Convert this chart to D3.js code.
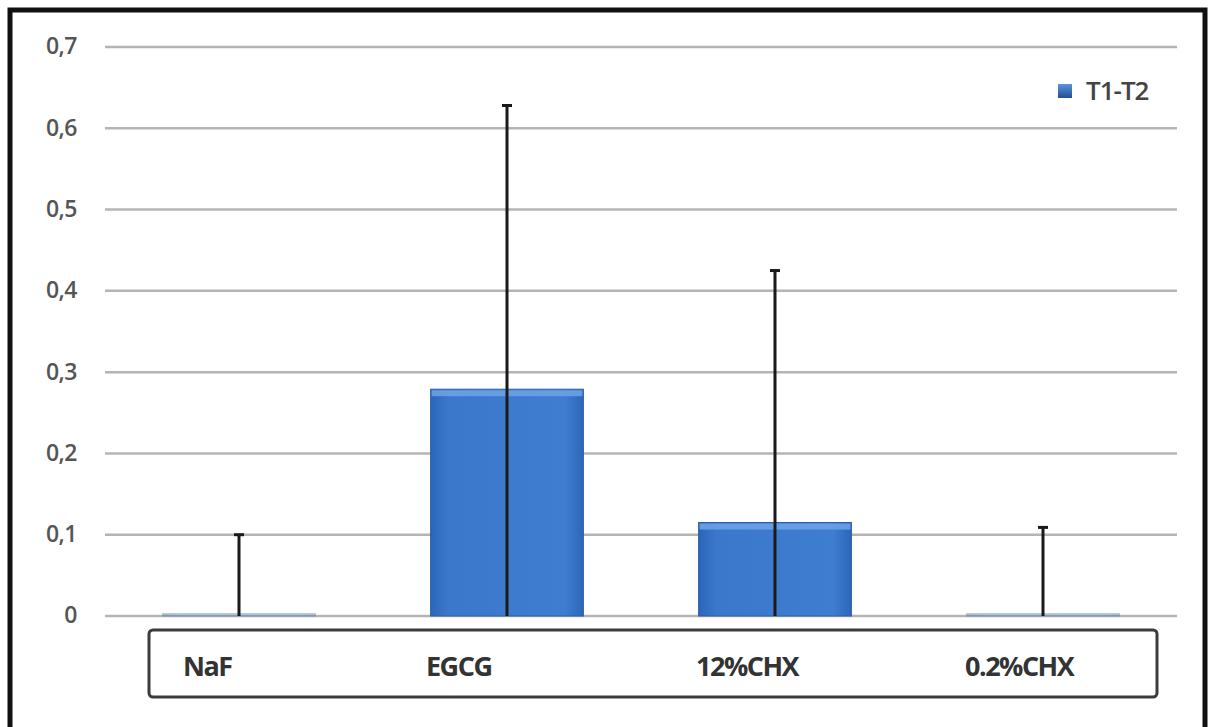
<!DOCTYPE html>
<html><head><meta charset="utf-8">
<script src="https://cdn.jsdelivr.net/npm/d3@7"></script>
<style>html,body{margin:0;padding:0;background:#fff;}svg{display:block;}</style>
</head><body>
<svg id="c" width="1213" height="727"></svg>
<script>
const categories = ["NaF", "EGCG", "12%CHX", "0.2%CHX"];
const values = [0.003, 0.279, 0.115, 0.003];
const errorTops = [0.1, 0.628, 0.425, 0.109];
const yTicks = [0, 0.1, 0.2, 0.3, 0.4, 0.5, 0.6, 0.7];
const yTickLabels = ["0", "0,1", "0,2", "0,3", "0,4", "0,5", "0,6", "0,7"];
const seriesName = "T1-T2";

const svg = d3.select("#c");
const left = 105, right = 1177, top0 = 47, bottom0 = 616;

const defs = svg.append("defs");
const g1 = defs.append("linearGradient").attr("id","barg").attr("x1","0").attr("x2","1").attr("y1","0").attr("y2","0");
g1.append("stop").attr("offset","0").attr("stop-color","#2c66b8");
g1.append("stop").attr("offset","0.12").attr("stop-color","#3b78cc");
g1.append("stop").attr("offset","0.88").attr("stop-color","#3f7dd1");
g1.append("stop").attr("offset","1").attr("stop-color","#2c66b8");
const g2 = defs.append("linearGradient").attr("id","legg").attr("x1","0").attr("x2","0").attr("y1","0").attr("y2","1");
g2.append("stop").attr("offset","0").attr("stop-color","#5a93dc");
g2.append("stop").attr("offset","1").attr("stop-color","#234f8f");

// frame
svg.append("rect").attr("x",10).attr("y",10).attr("width",1195).attr("height",740)
  .attr("fill","none").attr("stroke","#111").attr("stroke-width",5);

const x = d3.scaleBand().domain(categories).range([left, right]).paddingInner(0.43).paddingOuter(0.215);
const y = d3.scaleLinear().domain([0, 0.7]).range([bottom0, top0]);

// gridlines
svg.append("g").selectAll("line").data(yTicks).join("line")
  .attr("x1", left).attr("x2", right)
  .attr("y1", d => y(d)).attr("y2", d => y(d))
  .attr("stroke", "#b4b4b4").attr("stroke-width", 2.5);

// y axis labels
const yAxis = d3.axisLeft(y).tickValues(yTicks).tickSize(0).tickPadding(0)
  .tickFormat((d,i) => yTickLabels[i]);
const ya = svg.append("g").attr("transform","translate(77,0)").call(yAxis);
ya.select(".domain").remove();
ya.selectAll("text").attr("font-family","'Open Sans', sans-serif").attr("font-size",23)
  .attr("font-weight",600).attr("fill","#555").attr("letter-spacing","-0.5").attr("dy","0.3em");

// bars
const bars = svg.append("g");
bars.selectAll("rect.bar").data(categories).join("rect").attr("class","bar")
  .attr("x", d => x(d)).attr("width", x.bandwidth())
  .attr("y", (d,i) => y(values[i])).attr("height", (d,i) => y(0) - y(values[i]))
  .attr("fill", "url(#barg)").attr("stroke", "#2a5ea6").attr("stroke-width", 1)
  .attr("opacity", (d,i) => values[i] < 0.01 ? 0.35 : 1);
// top bevel highlight
bars.selectAll("rect.bev").data(categories.filter((d,i) => values[i] >= 0.01)).join("rect").attr("class","bev")
  .attr("x", d => x(d) + 1).attr("width", x.bandwidth() - 2)
  .attr("y", d => y(values[categories.indexOf(d)]) + 1).attr("height", 6)
  .attr("fill", "#6ea3e6").attr("opacity", 0.85);

// error bars
const eb = svg.append("g");
eb.selectAll("line.v").data(categories).join("line").attr("class","v")
  .attr("x1", d => x(d) + x.bandwidth()/2).attr("x2", d => x(d) + x.bandwidth()/2)
  .attr("y1", y(0)).attr("y2", (d,i) => y(errorTops[i]))
  .attr("stroke", "#1a1a1a").attr("stroke-width", 3);
eb.selectAll("line.cap").data(categories).join("line").attr("class","cap")
  .attr("x1", d => x(d) + x.bandwidth()/2 - 5).attr("x2", d => x(d) + x.bandwidth()/2 + 5)
  .attr("y1", (d,i) => y(errorTops[i])).attr("y2", (d,i) => y(errorTops[i]))
  .attr("stroke", "#1a1a1a").attr("stroke-width", 3);

// category box
svg.append("rect").attr("x",149).attr("y",630).attr("width",1008).attr("height",67).attr("rx",4)
  .attr("fill","#fff").attr("stroke","#3c3c3c").attr("stroke-width",3);
const labelX = [183, 426, 696, 965];
svg.append("g").selectAll("text").data(categories).join("text")
  .attr("x", (d,i) => labelX[i]).attr("y", 676)
  .attr("font-family","'Open Sans', sans-serif").attr("font-size",27).attr("font-weight",700)
  .attr("fill","#333").attr("letter-spacing","-1.5").text(d => d);

// legend
svg.append("rect").attr("x",1058).attr("y",84).attr("width",14).attr("height",14)
  .attr("fill","url(#legg)");
svg.append("text").attr("x",1086).attr("y",100).attr("font-family","'Open Sans', sans-serif")
  .attr("font-size",26).attr("font-weight",600).attr("fill","#444").attr("letter-spacing","-1").text(seriesName);
</script>
</body></html>
